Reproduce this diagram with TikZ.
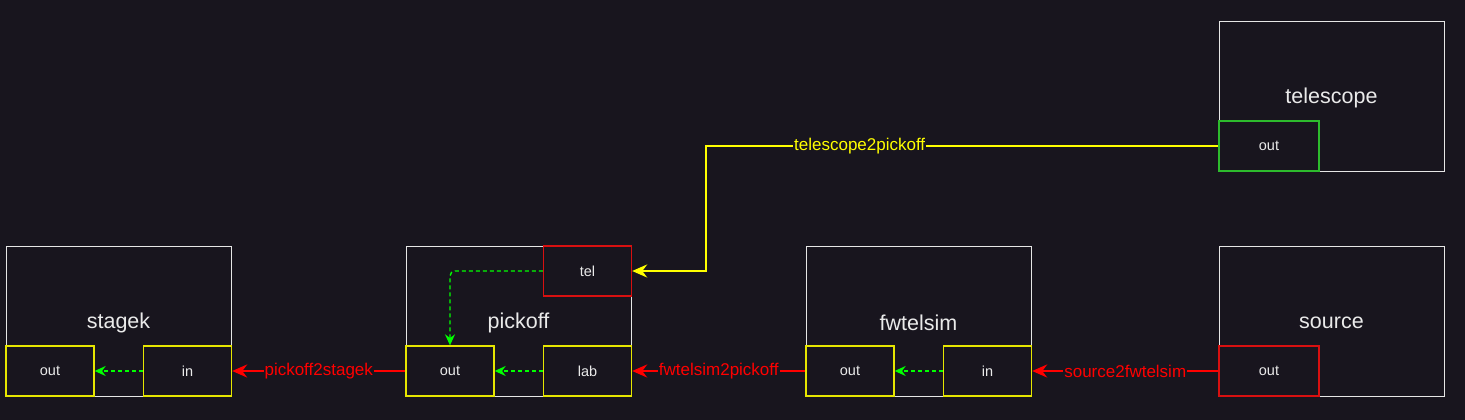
\documentclass[tikz,border=0pt]{standalone}
\usepackage{fontspec}
\setmainfont{Liberation Sans}
\usetikzlibrary{arrows.meta}
\definecolor{bg}{HTML}{18151E}
\definecolor{boxline}{HTML}{E6E6E6}
\definecolor{txt}{HTML}{EAEAEA}
\definecolor{portyellow}{HTML}{E6E600}
\definecolor{portred}{HTML}{D81010}
\definecolor{portgreen}{HTML}{2DBB2D}
\definecolor{linkred}{HTML}{FF0000}
\definecolor{linkyellow}{HTML}{FFFF00}
\definecolor{flowgreen}{HTML}{00FF00}
\begin{document}
\begin{tikzpicture}[x=1pt,y=-1pt,
 block/.style={draw=boxline,line width=0.9pt,minimum width=225pt,minimum height=150pt,inner sep=0pt,text=txt,font=\fontsize{21.5}{26}\selectfont},
 title/.style={text=txt,font=\fontsize{21.5}{26}\selectfont},
 port/.style={line width=1.3pt,minimum width=88pt,minimum height=50pt,inner sep=0pt,text=txt,font=\fontsize{14.5}{17}\selectfont},
 link/.style={line width=2.4pt,-{Stealth[length=15pt,width=13pt]}},
 lbl/.style={fill=bg,inner sep=1pt,font=\fontsize{17}{20}\selectfont},
 flow/.style={color=flowgreen,line width=1.4pt,dash pattern=on 4pt off 3pt,-{Stealth[length=11pt,width=10pt]}}]
\useasboundingbox[fill=bg](0,0)rectangle(1465,420);
% blocks
\node[block](stagek)at(118.5,321){};
\node[block](pickoff)at(518.5,321){};
\node[block](fwtelsim)at(918.5,321){};
\node[block](source)at(1331.5,321){};
\node[block](telescope)at(1331.5,96){};
\node[title](stagek-name)at(118.5,323){stagek};
\node[title](pickoff-name)at(518.5,323){pickoff};
\node[title](fwtelsim-name)at(918.5,323){fwtelsim};
\node[title](source-name)at(1331.5,323){source};
\node[title](telescope-name)at(1331.5,98){telescope};
% ports
\node[port,draw=portyellow](stagek-out)at(50,371){out};
\node[port,draw=portyellow](stagek-in)at(187.5,371){in};
\node[port,draw=portred](pickoff-tel)at(587.5,271){tel};
\node[port,draw=portyellow](pickoff-out)at(450,371){out};
\node[port,draw=portyellow](pickoff-lab)at(587.5,371){lab};
\node[port,draw=portyellow](fwtelsim-out)at(850,371){out};
\node[port,draw=portyellow](fwtelsim-in)at(987.5,371){in};
\node[port,draw=portred,minimum width=100pt](source-out)at(1269,371){out};
\node[port,draw=portgreen,minimum width=100pt](telescope-out)at(1269,146){out};
% internal flows
\draw[flow](stagek-in)--(stagek-out);
\draw[flow](pickoff-lab)--(pickoff-out);
\draw[flow](fwtelsim-in)--(fwtelsim-out);
\draw[flow,rounded corners=5pt](pickoff-tel.west)-|(pickoff-out.north);
% links
\coordinate(bend)at(706,146);
\draw[link,draw=linkyellow](telescope-out.west)--node[lbl,text=linkyellow,pos=0.7]{telescope2pickoff}(bend)|-(pickoff-tel.east);
\draw[link,draw=linkred](pickoff-out)--node[lbl,text=linkred]{pickoff2stagek}(stagek-in);
\draw[link,draw=linkred](fwtelsim-out)--node[lbl,text=linkred]{fwtelsim2pickoff}(pickoff-lab);
\draw[link,draw=linkred](source-out)--node[lbl,text=linkred]{source2fwtelsim}(fwtelsim-in);
\end{tikzpicture}
\end{document}
